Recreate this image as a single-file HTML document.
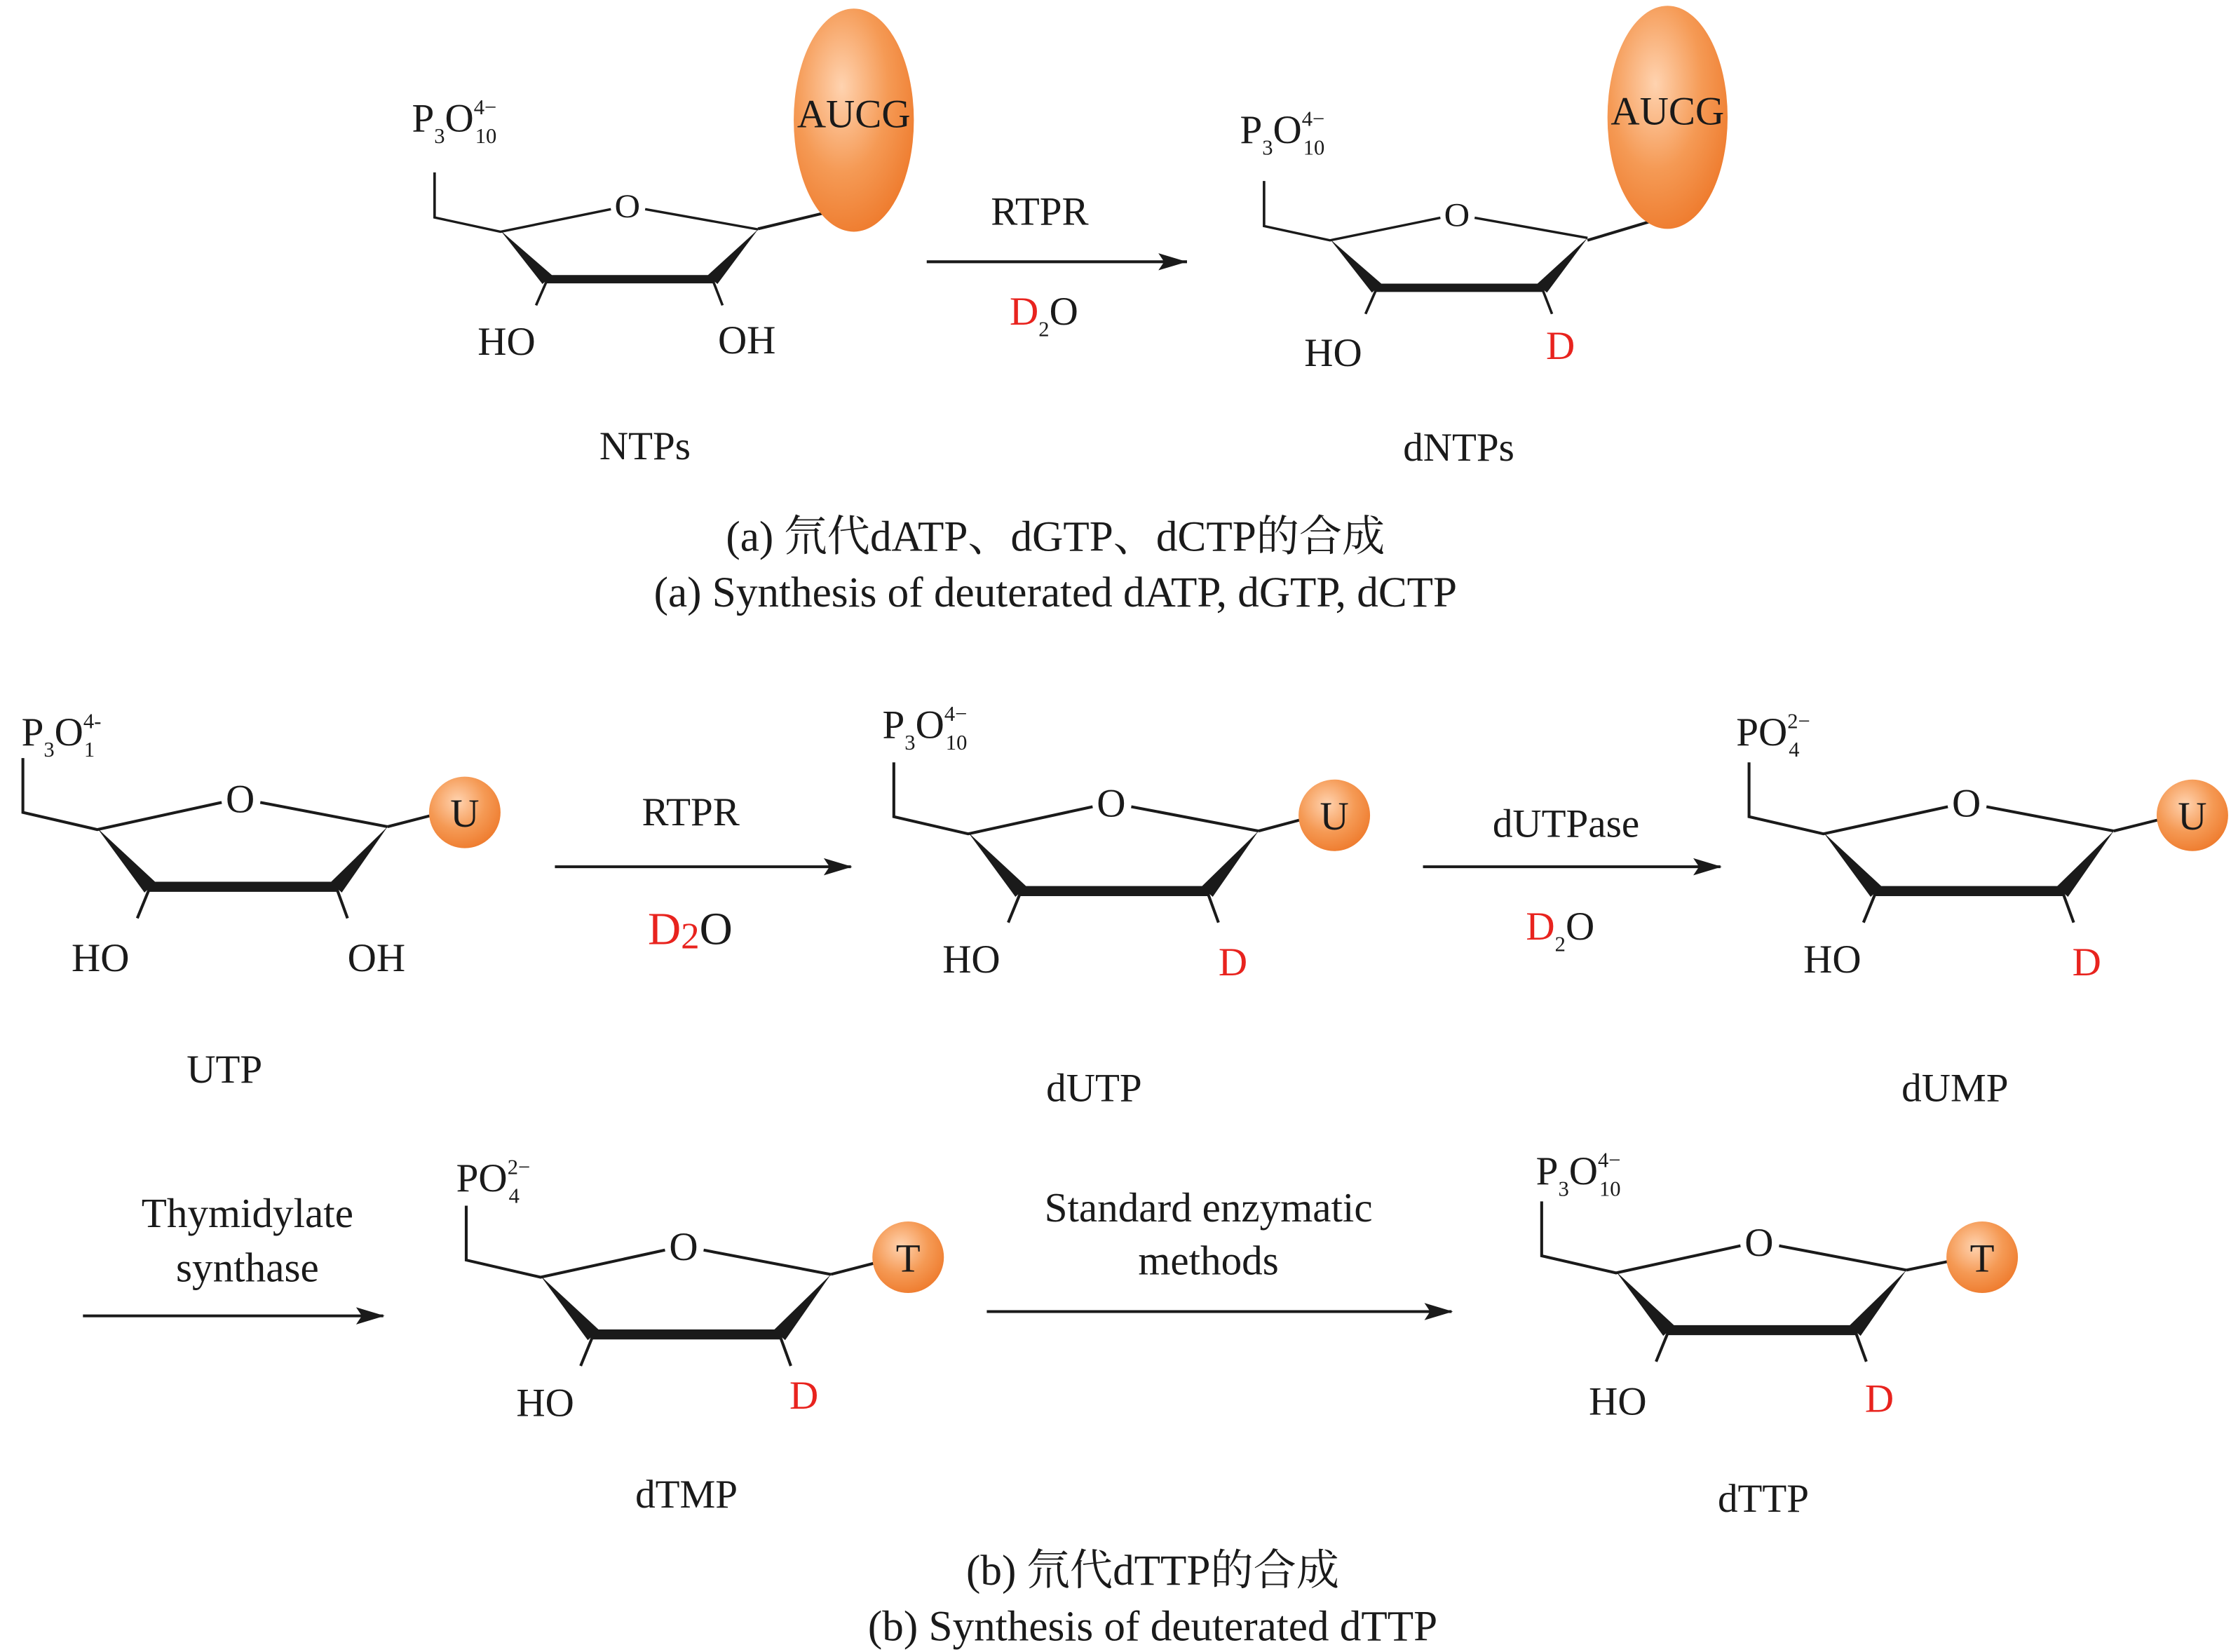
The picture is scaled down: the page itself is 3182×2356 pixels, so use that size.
<!DOCTYPE html>
<html><head><meta charset="utf-8"><style>html,body{margin:0;padding:0;background:#fff}svg{display:block}text{font-family:"Liberation Serif","Noto Serif CJK SC",serif;fill:#1a1a1a}.r{fill:#e8231e}</style></head><body>
<svg width="3182" height="2356" viewBox="0 0 1560 1155" xmlns="http://www.w3.org/2000/svg">
<defs>
<radialGradient id="og" cx="40%" cy="35%" r="70%"><stop offset="0" stop-color="#ffd3b0"/><stop offset="0.55" stop-color="#f59a55"/><stop offset="1" stop-color="#ee7a2c"/></radialGradient>
<g id="ring" stroke="#1a1a1a" stroke-width="2" fill="none">
<path d="M-52,-50 L-52,-12 L0,0 L87,-19 M114,-19 L203,-2"/>
<polygon points="0,-1 33,44 41,37" fill="#1a1a1a" stroke="none"/>
<polygon points="203,-2 163,37 171,44" fill="#1a1a1a" stroke="none"/>
<line x1="36" y1="40" x2="168" y2="40" stroke-width="7"/>
<line x1="37" y1="40" x2="28" y2="62"/>
<line x1="167" y1="40" x2="175" y2="62"/>
<text x="100" y="-12" font-size="28" text-anchor="middle" stroke="none">O</text>
</g>
</defs>

<!-- (a) -->
<g transform="translate(350,162) scale(0.887,0.83)"><use href="#ring"/></g>
<line x1="530" y1="160" x2="580" y2="148" stroke="#1a1a1a" stroke-width="2"/>
<ellipse cx="597" cy="84" rx="42" ry="78" fill="url(#og)"/>
<text x="597" y="89" font-size="28" text-anchor="middle">AUCG</text>
<text x="288" y="92" font-size="28">P<tspan font-size="15" dy="8">3</tspan><tspan dy="-8">O</tspan><tspan font-size="15" dy="-12">4−</tspan><tspan font-size="15" dx="-15" dy="20">10</tspan></text>
<text x="334" y="248" font-size="28">HO</text><text x="502" y="247" font-size="28">OH</text>
<text x="451" y="321" font-size="28" text-anchor="middle">NTPs</text>

<line x1="648" y1="183" x2="830" y2="183" stroke="#1a1a1a" stroke-width="2"/><polygon points="830,183 810,177 814,183 810,189" fill="#1a1a1a"/>
<text x="727" y="157" font-size="28" text-anchor="middle">RTPR</text>
<text x="706" y="227" font-size="28"><tspan class="r">D</tspan><tspan font-size="15" dy="8">2</tspan><tspan dy="-8">O</tspan></text>

<g transform="translate(930,168) scale(0.887,0.83)"><use href="#ring"/></g>
<line x1="1110" y1="168" x2="1160" y2="153" stroke="#1a1a1a" stroke-width="2"/>
<ellipse cx="1166" cy="82" rx="42" ry="78" fill="url(#og)"/>
<text x="1166" y="87" font-size="28" text-anchor="middle">AUCG</text>
<text x="867" y="100" font-size="28">P<tspan font-size="15" dy="8">3</tspan><tspan dy="-8">O</tspan><tspan font-size="15" dy="-12">4−</tspan><tspan font-size="15" dx="-15" dy="20">10</tspan></text>
<text x="912" y="256" font-size="28">HO</text><text x="1081" y="251" font-size="28" class="r">D</text>
<text x="1020" y="322" font-size="28" text-anchor="middle">dNTPs</text>

<text x="738" y="385" font-size="30" text-anchor="middle">(a) 氘代dATP、dGTP、dCTP的合成</text>
<text x="738" y="424" font-size="30" text-anchor="middle">(a) Synthesis of deuterated dATP, dGTP, dCTP</text>

<!-- (b) row 1 -->
<g transform="translate(68,580)"><use href="#ring"/></g>
<line x1="271" y1="578" x2="302" y2="570" stroke="#1a1a1a" stroke-width="2"/>
<circle cx="325" cy="568" r="25" fill="url(#og)"/><text x="325" y="578" font-size="28" text-anchor="middle">U</text>
<text x="15" y="521" font-size="28">P<tspan font-size="15" dy="8">3</tspan><tspan dy="-8">O</tspan><tspan font-size="15" dy="-12">4-</tspan><tspan font-size="15" dx="-12" dy="20">1</tspan></text>
<text x="50" y="679" font-size="28">HO</text><text x="243" y="679" font-size="28">OH</text>
<text x="157" y="757" font-size="28" text-anchor="middle">UTP</text>

<line x1="388" y1="606" x2="595" y2="606" stroke="#1a1a1a" stroke-width="2"/><polygon points="596,606 576,600 580,606 576,612" fill="#1a1a1a"/>
<text x="483" y="577" font-size="28" text-anchor="middle">RTPR</text>
<text x="453" y="660" font-size="32"><tspan class="r">D</tspan><tspan class="r" font-size="26" dy="3">2</tspan><tspan dy="-3">O</tspan></text>

<g transform="translate(677,583)"><use href="#ring"/></g>
<line x1="880" y1="581" x2="910" y2="573" stroke="#1a1a1a" stroke-width="2"/>
<circle cx="933" cy="570" r="25" fill="url(#og)"/><text x="933" y="580" font-size="28" text-anchor="middle">U</text>
<text x="617" y="516" font-size="28">P<tspan font-size="15" dy="8">3</tspan><tspan dy="-8">O</tspan><tspan font-size="15" dy="-12">4−</tspan><tspan font-size="15" dx="-15" dy="20">10</tspan></text>
<text x="659" y="680" font-size="28">HO</text><text x="852" y="682" font-size="28" class="r">D</text>
<text x="765" y="770" font-size="28" text-anchor="middle">dUTP</text>

<line x1="995" y1="606" x2="1203" y2="606" stroke="#1a1a1a" stroke-width="2"/><polygon points="1204,606 1184,600 1188,606 1184,612" fill="#1a1a1a"/>
<text x="1095" y="585" font-size="28" text-anchor="middle">dUTPase</text>
<text x="1067" y="657" font-size="28"><tspan class="r">D</tspan><tspan font-size="15" dy="8">2</tspan><tspan dy="-8">O</tspan></text>

<g transform="translate(1275,583)"><use href="#ring"/></g>
<line x1="1478" y1="581" x2="1510" y2="573" stroke="#1a1a1a" stroke-width="2"/>
<circle cx="1533" cy="570" r="25" fill="url(#og)"/><text x="1533" y="580" font-size="28" text-anchor="middle">U</text>
<text x="1214" y="521" font-size="28">PO<tspan font-size="15" dy="-12">2−</tspan><tspan font-size="15" dx="-15" dy="20">4</tspan></text>
<text x="1261" y="680" font-size="28">HO</text><text x="1449" y="682" font-size="28" class="r">D</text>
<text x="1367" y="770" font-size="28" text-anchor="middle">dUMP</text>

<!-- row 2 -->
<line x1="58" y1="920" x2="268" y2="920" stroke="#1a1a1a" stroke-width="2"/><polygon points="269,920 249,914 253,920 249,926" fill="#1a1a1a"/>
<text x="173" y="858" font-size="29" text-anchor="middle">Thymidylate</text>
<text x="173" y="896" font-size="29" text-anchor="middle">synthase</text>

<g transform="translate(378,893)"><use href="#ring"/></g>
<line x1="581" y1="891" x2="612" y2="883" stroke="#1a1a1a" stroke-width="2"/>
<circle cx="635" cy="879" r="25" fill="url(#og)"/><text x="635" y="889" font-size="28" text-anchor="middle">T</text>
<text x="319" y="833" font-size="28">PO<tspan font-size="15" dy="-12">2−</tspan><tspan font-size="15" dx="-15" dy="20">4</tspan></text>
<text x="361" y="990" font-size="28">HO</text><text x="552" y="985" font-size="28" class="r">D</text>
<text x="480" y="1054" font-size="28" text-anchor="middle">dTMP</text>

<line x1="690" y1="917" x2="1015" y2="917" stroke="#1a1a1a" stroke-width="2"/><polygon points="1016,917 996,911 1000,917 996,923" fill="#1a1a1a"/>
<text x="845" y="854" font-size="29" text-anchor="middle">Standard enzymatic</text>
<text x="845" y="891" font-size="29" text-anchor="middle">methods</text>

<g transform="translate(1130,890)"><use href="#ring"/></g>
<line x1="1333" y1="888" x2="1362" y2="882" stroke="#1a1a1a" stroke-width="2"/>
<circle cx="1386" cy="879" r="25" fill="url(#og)"/><text x="1386" y="889" font-size="28" text-anchor="middle">T</text>
<text x="1074" y="828" font-size="28">P<tspan font-size="15" dy="8">3</tspan><tspan dy="-8">O</tspan><tspan font-size="15" dy="-12">4−</tspan><tspan font-size="15" dx="-15" dy="20">10</tspan></text>
<text x="1111" y="989" font-size="28">HO</text><text x="1304" y="987" font-size="28" class="r">D</text>
<text x="1233" y="1057" font-size="28" text-anchor="middle">dTTP</text>

<text x="806" y="1108" font-size="30" text-anchor="middle">(b) 氘代dTTP的合成</text>
<text x="806" y="1147" font-size="30" text-anchor="middle">(b) Synthesis of deuterated dTTP</text>
</svg>
</body></html>
